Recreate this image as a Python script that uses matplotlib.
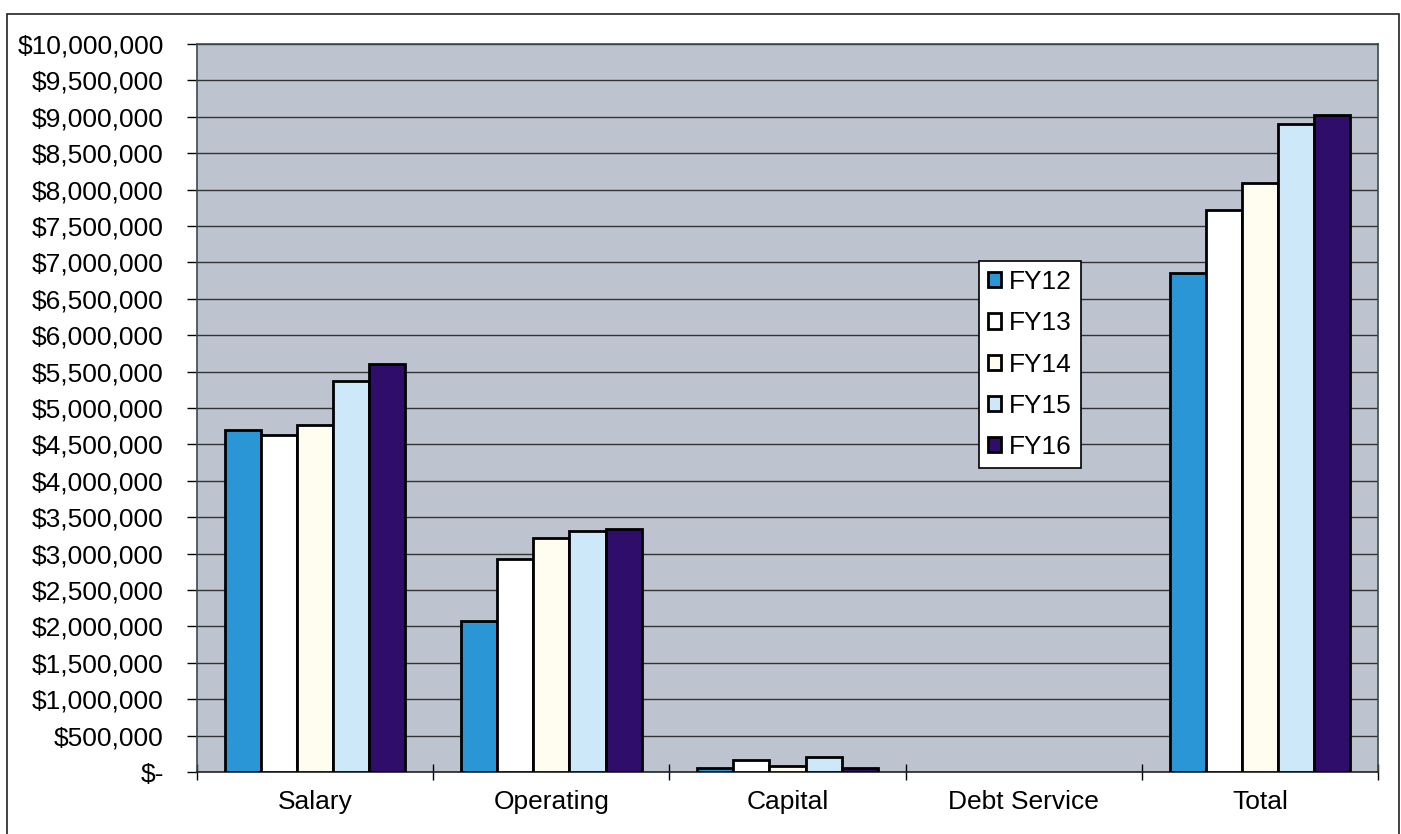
import matplotlib.pyplot as plt
import numpy as np
from matplotlib.patches import Rectangle
from matplotlib.ticker import FuncFormatter, MultipleLocator

plt.rcParams['font.family'] = ['Liberation Sans', 'DejaVu Sans']

# 各类别预算数据
categories = ['Salary', 'Operating', 'Capital', 'Debt Service', 'Total']
years = ['FY12', 'FY13', 'FY14', 'FY15', 'FY16']
fy12 = [4700000, 2070000, 50000, 0, 6860000]
fy13 = [4630000, 2920000, 160000, 0, 7720000]
fy14 = [4770000, 3210000, 80000, 0, 8090000]
fy15 = [5370000, 3310000, 210000, 0, 8900000]
fy16 = [5600000, 3340000, 50000, 0, 9020000]
series = [fy12, fy13, fy14, fy15, fy16]
colors = ['#2b96d6', '#ffffff', '#fffdf0', '#cde9f9', '#2e0d6b']

fig = plt.figure(figsize=(14.01, 8.34), dpi=100)
# 外框
fig.patches.append(Rectangle((7 / 1401, -0.01), 1392 / 1401, 1.01 - 14 / 834,
                             transform=fig.transFigure, fill=False,
                             edgecolor='#222222', linewidth=1.2))

ax = fig.add_axes([197 / 1401, 1 - 772 / 834, 1181 / 1401, 728 / 834])
ax.set_facecolor('#bec4cf')

x = np.arange(len(categories))
w = 0.153
for i, (vals, c) in enumerate(zip(series, colors)):
    # 数值为0的柱子不画边框
    lw = [2 if v > 0 else 0 for v in vals]
    ax.bar(x + (i - 2) * w, vals, width=w, color=c, edgecolor='black',
           linewidth=lw, label=years[i], zorder=3)

ax.set_xlim(-0.5, len(categories) - 0.5)
ax.set_ylim(0, 10000000)
ax.yaxis.set_major_locator(MultipleLocator(500000))


def money(v, pos):
    if v == 0:
        return '$-'
    return '${:,.0f}'.format(v)


ax.yaxis.set_major_formatter(FuncFormatter(money))
ax.grid(axis='y', color='#333333', linewidth=1, zorder=1)

# 类别刻度在分组之间
ax.set_xticks(np.arange(-0.5, len(categories), 1))
ax.set_xticklabels([])
ax.set_xticks(x, minor=True)
ax.set_xticklabels(categories, minor=True, fontsize=19)
ax.tick_params(axis='x', which='major', direction='inout', length=12, width=1)
ax.tick_params(axis='x', which='minor', length=0, pad=13)
ax.tick_params(axis='y', direction='out', length=7, width=1, labelsize=19, pad=17)

for s in ax.spines.values():
    s.set_color('#3a4a4a')
    s.set_linewidth(1.2)
ax.spines['bottom'].set_color('#222222')

leg = fig.legend(loc='upper left', bbox_to_anchor=(979 / 1401, 1 - 261 / 834),
                 fontsize=19, frameon=True, fancybox=False, edgecolor='black',
                 facecolor='white', framealpha=1,
                 handlelength=0.5, handleheight=0.5, handletextpad=0.3,
                 labelspacing=0.65, borderpad=0.35, borderaxespad=0)
leg.get_frame().set_linewidth(1.2)

fig.savefig('out.png', dpi=100)
